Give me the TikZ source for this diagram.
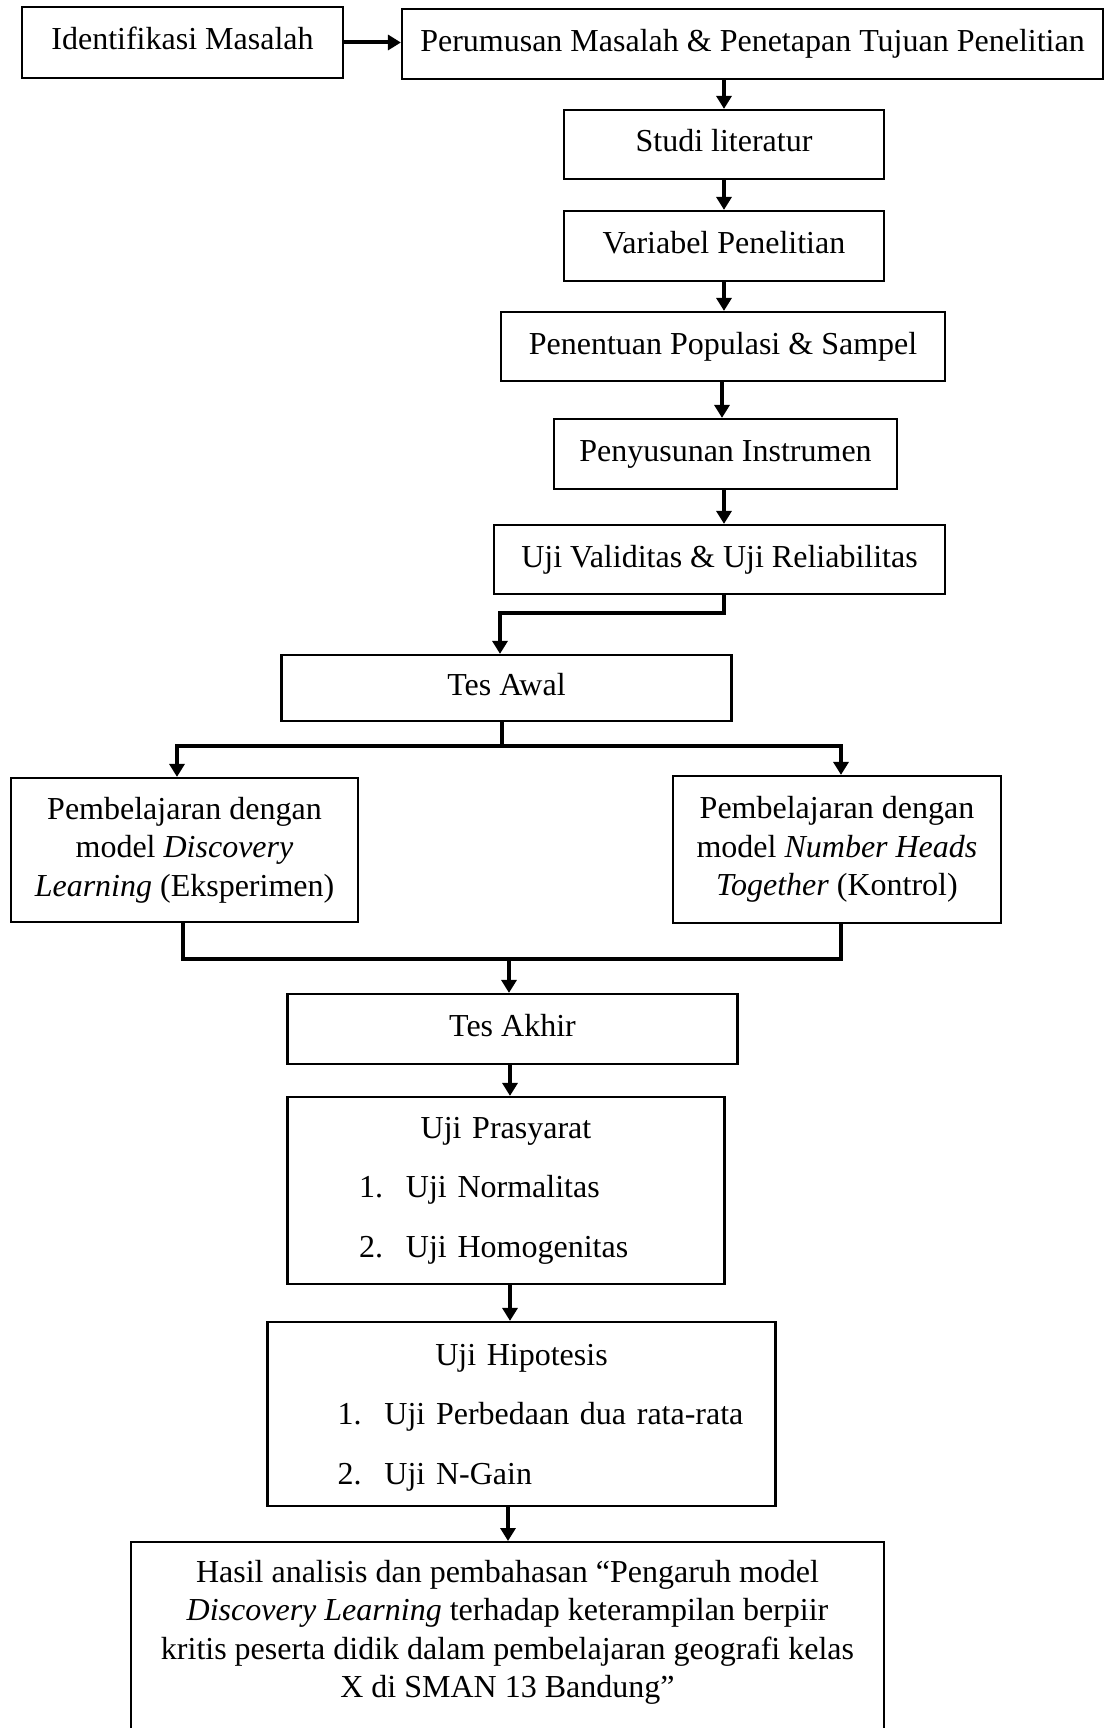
\documentclass[tikz,border=0pt]{standalone}
\usepackage{fontspec}
\setmainfont{Liberation Serif}
\usetikzlibrary{arrows.meta}
\begin{document}
\begin{tikzpicture}[x=1pt,y=-1pt,
  box/.style={draw, line width=2.2pt, inner sep=0pt, align=center,
    font=\fontsize{32}{38.5}\selectfont},
  onebox/.style={box, text height=22pt, text depth=7pt},
  listbox/.style={box, align=left, font=\fontsize{32}{59.5}\selectfont},
  conn/.style={line width=3.2pt, -{Triangle[length=13pt,width=15pt]}},
  trunk/.style={line width=3.2pt}]
\useasboundingbox (0,0) rectangle (1108,1728);

\node[onebox, minimum width=321pt, minimum height=71pt] (idm) at (182.5,42.5) {Identifikasi Masalah};
\node[onebox, minimum width=701pt, minimum height=70pt] (per) at (752.5,44) {Perumusan Masalah \& Penetapan Tujuan Penelitian};
\node[onebox, minimum width=320pt, minimum height=69pt] (studi) at (724,144.5) {Studi literatur};
\node[onebox, minimum width=320pt, minimum height=70pt] (var) at (724,246) {Variabel Penelitian};
\node[onebox, minimum width=444pt, minimum height=69pt] (pop) at (723,346.5) {Penentuan Populasi \& Sampel};
\node[onebox, minimum width=343pt, minimum height=70pt] (ins) at (725.5,454) {Penyusunan Instrumen};
\node[onebox, minimum width=451pt, minimum height=69pt] (uji) at (719.5,559.5) {Uji Validitas \& Uji Reliabilitas};
\node[onebox, minimum width=450pt, minimum height=66pt] (awal) at (506.5,688) {Tes Awal};
\node[box, minimum width=347pt, minimum height=144pt] (left) at (184.5,850) {Pembelajaran dengan\\model \textit{Discovery}\\\textit{Learning} (Eksperimen)};
\node[box, minimum width=328pt, minimum height=147pt] (right) at (837,849.5) {Pembelajaran dengan\\model \textit{Number Heads}\\\textit{Together} (Kontrol)};
\node[onebox, minimum width=450pt, minimum height=70pt] (akhir) at (512.5,1029) {Tes Akhir};
\node[listbox, text width=437pt, minimum height=187pt] (pras) at (506,1190.5)
  {\makebox[437pt]{Uji Prasyarat}\\\hspace*{71.5pt}\makebox[47pt][l]{1.}Uji Normalitas\\\hspace*{71.5pt}\makebox[47pt][l]{2.}Uji Homogenitas};
\node[listbox, text width=508pt, minimum height=184pt] (hip) at (521.5,1414)
  {\makebox[508pt]{\rule{0pt}{28pt}Uji Hipotesis}\\\hspace*{70pt}\makebox[47pt][l]{1.}Uji Perbedaan dua rata-rata\\\hspace*{70pt}\makebox[47pt][l]{2.}Uji N-Gain};
\node[box, anchor=north, minimum width=753pt] (hasil) at (507.5,1541)
  {\rule{0pt}{40pt}Hasil analisis dan pembahasan “Pengaruh model\\\textit{Discovery Learning} terhadap keterampilan berpiir\\kritis peserta didik dalam pembelajaran geografi kelas\\X di SMAN 13 Bandung”\rule[-70pt]{0pt}{70pt}};

\coordinate (xa) at (724,0);
\coordinate (xb) at (722,0);
\coordinate (xc) at (500,0);
\coordinate (xd) at (510,0);
\coordinate (xe) at (508,0);
\coordinate (xl) at (177,0);
\coordinate (xl2) at (183,0);
\coordinate (xr) at (841,0);
\coordinate (j1) at (724,613);
\coordinate (j2) at (502,746);
\coordinate (j3) at (509,959);

\draw[conn, line width=4pt] (idm.east) -- (idm.east -| per.west);
\draw[conn] (per.south -| xa) -- (studi.north -| xa);
\draw[conn] (studi.south -| xa) -- (var.north -| xa);
\draw[conn] (var.south -| xa) -- (pop.north -| xa);
\draw[conn] (pop.south -| xb) -- (ins.north -| xb);
\draw[conn] (ins.south -| xa) -- (uji.north -| xa);
\draw[conn] (uji.south -| xa) -- (j1) -| (awal.north -| xc);
\draw[trunk] (awal.south -| j2) -- (j2);
\draw[conn] (j2) -| (left.north -| xl);
\draw[conn] (j2) -| (right.north -| xr);
\draw[trunk] (left.south -| xl2) |- (j3);
\draw[trunk] (right.south -| xr) |- (j3);
\draw[conn] (j3) -- (akhir.north -| j3);
\draw[conn] (akhir.south -| xd) -- (pras.north -| xd);
\draw[conn] (pras.south -| xd) -- (hip.north -| xd);
\draw[conn] (hip.south -| xe) -- (hasil.north -| xe);
\end{tikzpicture}
\end{document}
